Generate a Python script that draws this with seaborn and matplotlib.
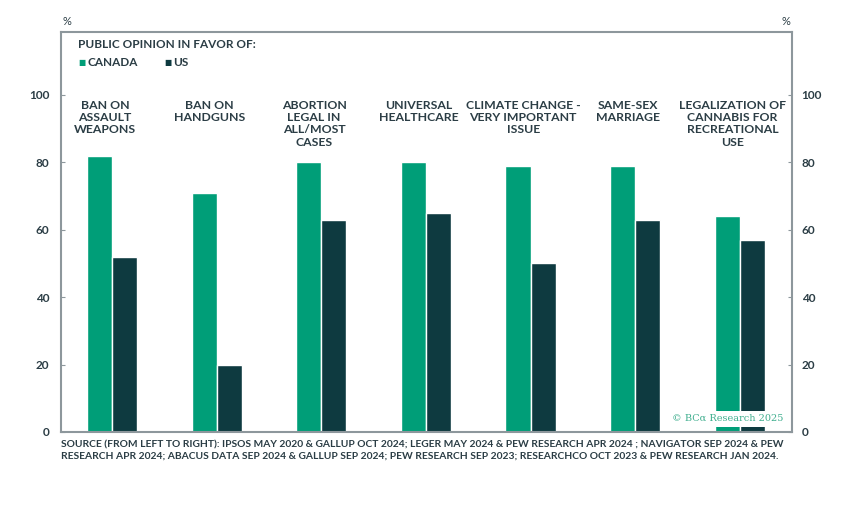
import matplotlib
matplotlib.use("Agg")
import matplotlib.pyplot as plt
import seaborn as sns
import pandas as pd

categories = ["BAN ON\nASSAULT\nWEAPONS", "BAN ON\nHANDGUNS", "ABORTION\nLEGAL IN\nALL/MOST\nCASES",
              "UNIVERSAL\nHEALTHCARE", "CLIMATE CHANGE -\nVERY IMPORTANT\nISSUE", "SAME-SEX\nMARRIAGE",
              "LEGALIZATION OF\nCANNABIS FOR\nRECREATIONAL\nUSE"]
canada = [82, 71, 80, 80, 79, 79, 64]
us = [52, 20, 63, 65, 50, 63, 57]
series = ["CANADA", "US"]
yticks = [0, 20, 40, 60, 80, 100]

sns.set_theme(style="white")
plt.rcParams['font.family'] = ['Lato', 'DejaVu Sans']

TXT = "#2b3d45"
SPINE = "#8d979c"
GREEN = "#009e78"
DARK = "#0e3a40"

df = pd.DataFrame({
    "cat": list(range(len(categories))) * 2,
    "value": canada + us,
    "country": [series[0]] * len(canada) + [series[1]] * len(us),
})

fig = plt.figure(figsize=(8.53, 5.07), dpi=100)
ax = fig.add_axes([0.0715, 0.148, 0.857, 0.789])
sns.barplot(data=df, x="cat", y="value", hue="country", palette=[GREEN, DARK],
            width=0.48, gap=0, saturation=1, ax=ax, legend=False, native_scale=False)
ax.set_xlim(-0.49, 6.5)
ax.set_ylim(0, 118.7)
ax.set_xlabel("")
ax.set_ylabel("")
ax.set_xticks([])
ax.set_yticks(yticks)
ax.set_yticklabels([str(v) for v in yticks], fontsize=8.5, fontweight="bold", color=TXT)
ax.tick_params(axis="y", which="both", left=True, direction="in", length=3, width=0.8,
               color=SPINE, pad=8.5)
for s in ax.spines.values():
    s.set_color(SPINE)
    s.set_linewidth(1.5)

ax2 = ax.twinx()
ax2.set_ylim(ax.get_ylim())
ax2.set_yticks(yticks)
ax2.set_yticklabels([str(v) for v in yticks], fontsize=8.5, fontweight="bold", color=TXT)
ax2.tick_params(axis="y", right=True, direction="in", length=3, width=0.8, color=SPINE, pad=7)
for s in ax2.spines.values():
    s.set_visible(False)
ax2.grid(False)

for i, c in enumerate(categories):
    ax.text(i - 0.07, 98.6, c, ha="center", va="top", fontsize=8.8, fontweight="bold",
            color=TXT, linespacing=1.15)

fig.text(0.0727, 0.958, "%", fontsize=8, color=TXT, ha="left", va="center")
fig.text(0.916, 0.958, "%", fontsize=8, color=TXT, ha="left", va="center")

fig.text(0.0915, 0.913, "PUBLIC OPINION IN FAVOR OF:", fontsize=8.5, fontweight="bold",
         color=TXT, ha="left", va="center")
fig.text(0.0915, 0.877, "\u25A0", fontsize=5.5, color=GREEN, ha="left", va="center")
fig.text(0.102, 0.877, "CANADA", fontsize=8.5, fontweight="bold", color=TXT, ha="left", va="center")
fig.text(0.1925, 0.877, "\u25A0", fontsize=5.5, color=DARK, ha="left", va="center")
fig.text(0.2025, 0.877, "US", fontsize=8.5, fontweight="bold", color=TXT, ha="left", va="center")

fig.text(0.918, 0.174, "\u00A9 BC\u03B1 Research 2025", fontsize=7, family="DejaVu Serif",
         color="#3fae8e", ha="right", va="center", zorder=5,
         bbox=dict(boxstyle="square,pad=0.35", facecolor="white", edgecolor="none"))

fig.text(0.0715, 0.131, "SOURCE (FROM LEFT TO RIGHT): IPSOS MAY 2020 & GALLUP OCT 2024; LEGER MAY 2024 & PEW RESEARCH APR 2024 ; NAVIGATOR SEP 2024 & PEW\n"
         "RESEARCH APR 2024; ABACUS DATA SEP 2024 & GALLUP SEP 2024; PEW RESEARCH SEP 2023; RESEARCHCO OCT 2023 & PEW RESEARCH JAN 2024.",
         fontsize=7.35, fontweight="bold", color=TXT, ha="left", va="top", linespacing=1.25)

fig.savefig("out.png", dpi=100, facecolor="white")
